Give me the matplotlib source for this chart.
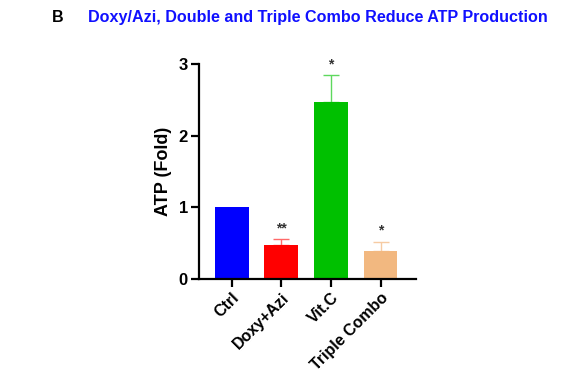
import numpy as np
import matplotlib.pyplot as plt

plt.rcParams['font.family'] = ['Liberation Sans', 'DejaVu Sans']

groups = ["Ctrl", "Doxy+Azi", "Vit.C", "Triple Combo"]
atp = [1.0, 0.47, 2.47, 0.39]
err = [0.0, 0.08, 0.37, 0.13]
stars = ["", "**", "*", "*"]
bar_colors = ["#0000FF", "#FF0000", "#00C000", "#F2B880"]
err_colors = ["#0000FF", "#FF6A6A", "#5ED85E", "#F6CBA3"]

fig = plt.figure(figsize=(5.8, 3.81), dpi=100)
ax = fig.add_axes([0.343, 0.268, 0.374, 0.564])

x = np.arange(len(groups))
ax.bar(x, atp, width=0.68, color=bar_colors, zorder=2)
for i in range(len(groups)):
    if err[i] > 0:
        ax.errorbar(x[i], atp[i], yerr=[[0], [err[i]]], fmt='none',
                    ecolor=err_colors[i], elinewidth=1.0, capsize=6,
                    capthick=1.0, zorder=1)
    if stars[i]:
        ax.text(x[i], atp[i] + err[i] + 0.06, stars[i], ha='center',
                va='bottom', fontsize=10, fontweight='bold', color='#333333')

ax.set_xlim(-0.66, 3.71)
ax.set_ylim(0, 3)
ax.set_yticks([0, 1, 2, 3])
ax.set_xticks(x)
ax.set_xticklabels(groups, rotation=45, ha='right', rotation_mode='anchor',
                   fontsize=11.5, fontweight='bold')
for lab in ax.get_yticklabels():
    lab.set_fontsize(12)
    lab.set_fontweight('bold')
ax.set_ylabel("ATP (Fold)", fontsize=13, fontweight='bold', labelpad=5)

ax.spines['top'].set_visible(False)
ax.spines['right'].set_visible(False)
ax.spines['left'].set_linewidth(1.6)
ax.spines['bottom'].set_linewidth(1.6)
ax.tick_params(axis='both', width=1.6, length=6, pad=2)

fig.text(0.09, 0.953, "B", fontsize=11.5, fontweight='bold', color='black',
         va='center')
fig.text(0.152, 0.953, "Doxy/Azi, Double and Triple Combo Reduce ATP Production",
         fontsize=11.6, fontweight='bold', color='#1010FF', va='center')

fig.savefig("out.png", dpi=100)
